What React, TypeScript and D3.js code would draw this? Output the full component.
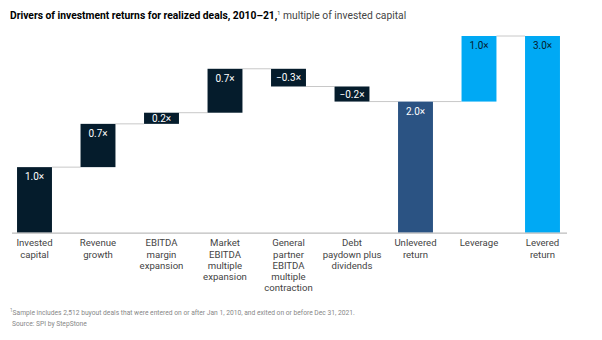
import React from "react";
import * as d3 from "d3";

const categories = [
  ["Invested", "capital"],
  ["Revenue", "growth"],
  ["EBITDA", "margin", "expansion"],
  ["Market", "EBITDA", "multiple", "expansion"],
  ["General", "partner", "EBITDA", "multiple", "contraction"],
  ["Debt", "paydown plus", "dividends"],
  ["Unlevered", "return"],
  ["Leverage"],
  ["Levered", "return"],
];
// value, kind: "total" bars start at 0, "delta" bars float
const values = [1.0, 0.66, 0.17, 0.67, -0.27, -0.23, 2.0, 1.0, 3.0];
const kinds = ["total", "delta", "delta", "delta", "delta", "delta", "total", "delta", "total"];
const colors = ["#051c2c", "#051c2c", "#051c2c", "#051c2c", "#051c2c", "#051c2c", "#2b5383", "#00a9f4", "#00a9f4"];
const labelColors = ["#fff", "#fff", "#fff", "#fff", "#fff", "#fff", "#fff", "#051c2c", "#051c2c"];

const W = 602;
const H = 340;

export default function App() {
  const x = d3
    .scaleBand<number>()
    .domain(d3.range(values.length))
    .range([2.75, 574.25])
    .paddingInner(0.45)
    .paddingOuter(0.225);
  const y = d3.scaleLinear().domain([0, 3]).range([232.7, 36]);

  let cum = 0;
  const bars = values.map((v, i) => {
    let lo: number, hi: number;
    if (kinds[i] === "total") {
      lo = 0;
      hi = v;
      cum = v;
    } else {
      const start = cum;
      cum = cum + v;
      lo = Math.min(start, cum);
      hi = Math.max(start, cum);
    }
    return { i, v, lo, hi, end: cum };
  });

  const fmt = (v: number) => (v < 0 ? "\u2212" : "") + Math.abs(v).toFixed(1) + "\u00d7";

  return (
    <svg width={W} height={H} style={{ position: "absolute", left: 0, top: 0, background: "#fff" }} fontFamily="Roboto, 'Noto Sans', sans-serif">
      <text x={10} y={19} fontSize={10.3} fill="#000">
        <tspan fontWeight="bold">Drivers of investment returns for realized deals, 2010–21,</tspan>
        <tspan fontSize={5.5} dy={-4.5} fill="#333">1</tspan>
        <tspan dy={4.5} fill="#444"> multiple of invested capital</tspan>
      </text>

      {/* connectors */}
      {bars.slice(0, -1).map((b, i) => {
        const x1 = (x(i) as number) + x.bandwidth();
        const x2 = x(i + 1) as number;
        return <line key={"c" + i} x1={x1} x2={x2} y1={y(b.end)} y2={y(b.end)} stroke="#c8c8c8" strokeWidth={1} />;
      })}

      {bars.map((b) => (
        <rect key={"r" + b.i} x={x(b.i)} width={x.bandwidth()} y={y(b.hi)} height={y(b.lo) - y(b.hi)} fill={colors[b.i]} />
      ))}

      {bars.map((b) => {
        const h = y(b.lo) - y(b.hi);
        const cy = h < 22 ? y(b.hi) + h / 2 + 3.5 : y(b.hi) + 13;
        return (
          <text key={"l" + b.i} x={(x(b.i) as number) + x.bandwidth() / 2} y={cy} textAnchor="middle" fontSize={10} fill={labelColors[b.i]}>
            {fmt(b.v)}
          </text>
        );
      })}

      <line x1={12} x2={567} y1={233.2} y2={233.2} stroke="#bdbdbd" strokeWidth={1.2} />

      {categories.map((lines, i) => (
        <text key={"t" + i} x={(x(i) as number) + x.bandwidth() / 2} textAnchor="middle" fontSize={9.6} fill="#444">
          {lines.map((ln, j) => (
            <tspan key={j} x={(x(i) as number) + x.bandwidth() / 2} y={246.2 + j * 11.3}>
              {ln}
            </tspan>
          ))}
        </text>
      ))}

      <text x={10} y={314.5} fontSize={6.7} fill="#888">
        <tspan fontSize={4.5} dy={-2.5}>1</tspan>
        <tspan dy={2.5}>Sample includes 2,512 buyout deals that were entered on or after Jan 1, 2010, and exited on or before Dec 31, 2021.</tspan>
      </text>
      <text x={12} y={325.5} fontSize={6.7} fill="#888">
        Source: SPI by StepStone
      </text>
    </svg>
  );
}
